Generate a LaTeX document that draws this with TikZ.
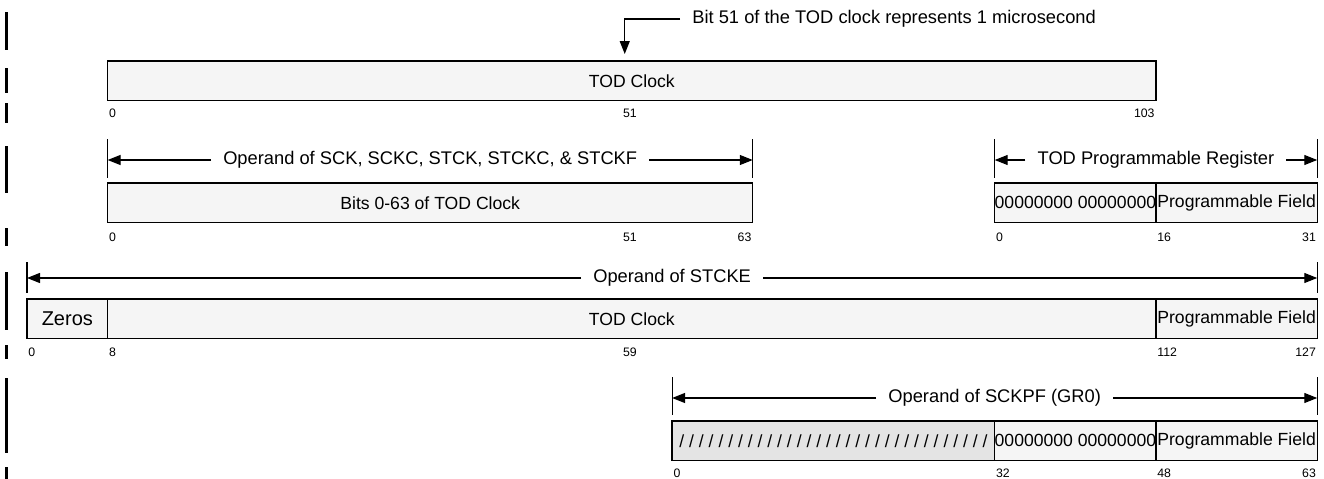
\documentclass[tikz,border=0pt]{standalone}
\usepackage{fontspec}
\setmainfont{Liberation Sans}
\usetikzlibrary{arrows.meta,positioning}
\definecolor{CellFill}{HTML}{F5F5F5}
\definecolor{CellShade}{HTML}{E4E4E4}

\begin{document}
\begin{tikzpicture}[x=10.08pt, y=-1pt,
   cell/.style={draw, line width=1.4pt, fill=CellFill, anchor=north west, outer sep=0pt,
                minimum height=39.5pt, inner sep=0pt, font=\fontsize{17.6}{20}\selectfont},
   nbits/.style={minimum width=#1*10.08pt},
   bitno/.style={font=\fontsize{12.3}{14}\selectfont, inner sep=1.2pt},
   oplabel/.style={font=\fontsize{18.3}{21}\selectfont, inner xsep=12pt, inner ysep=0pt},
   arr/.style={line width=1.2pt, -{Triangle[length=13pt,width=10pt]}},
   tick/.style={line width=1.2pt},
   chbar/.style={line width=3pt}]
  \useasboundingbox (-2.679,0) rectangle (128.671,479);

  % change bars in the margin
  \foreach \ya/\yb in {12/50, 68/93, 103/123, 146/193, 228/246, 272/330, 345/359, 378/453, 467/479}
    \draw[chbar] (-2.034,\ya) -- (-2.034,\yb);

  % TOD clock, 104 bits
  \node[oplabel, anchor=west] (note) at (64.8,19) {Bit 51 of the TOD clock represents 1 microsecond};
  \coordinate (b51) at (59.3,54);
  \draw[arr] (note.west) -| (b51);
  \node[cell, nbits=104] (tod) at (8,61) {TOD Clock};
  \node[bitno, anchor=west] (tod0) at (8,113) {0};
  \node[bitno, anchor=west] (tod51) at (59,113) {51};
  \node[bitno, anchor=east] (tod103) at (112,113) {103};

  % 64-bit operand
  \draw[tick] (8,139) -- (8,178);
  \draw[tick] (72,139) -- (72,178);
  \coordinate (opAl) at (8,160);
  \coordinate (opAr) at (72,160);
  \node[oplabel] (opA) at (40,160) {Operand of SCK, SCKC, STCK, STCKC, \& STCKF};
  \draw[arr] (opA.west) -- (opAl);
  \draw[arr] (opA.east) -- (opAr);
  \node[cell, nbits=64] (bits) at (8,183) {Bits 0-63 of TOD Clock};
  \node[bitno, anchor=west] (bits0) at (8,237) {0};
  \node[bitno, anchor=west] (bits51) at (59,237) {51};
  \node[bitno, anchor=east] (bits63) at (72,237) {63};

  % TOD programmable register
  \draw[tick] (96,139) -- (96,178);
  \draw[tick] (128,139) -- (128,178);
  \coordinate (tprl) at (96,160);
  \coordinate (tprr) at (128,160);
  \node[oplabel] (tpr) at (112,160) {TOD Programmable Register};
  \draw[arr] (tpr.west) -- (tprl);
  \draw[arr] (tpr.east) -- (tprr);
  \node[cell, nbits=16] (tprz) at (96,183) {00000000 00000000};
  \node[cell, nbits=16] (tprf) at (112,183) {Programmable Field};
  \node[bitno, anchor=west] (tpr0) at (96,237) {0};
  \node[bitno, anchor=west] (tpr16) at (112,237) {16};
  \node[bitno, anchor=east] (tpr31) at (128,237) {31};

  % STCKE operand, 128 bits
  \draw[tick] (0,262) -- (0,293);
  \draw[tick] (128,262) -- (128,293);
  \coordinate (opBl) at (0,278);
  \coordinate (opBr) at (128,278);
  \node[oplabel] (opB) at (64,278) {Operand of STCKE};
  \draw[arr] (opB.west) -- (opBl);
  \draw[arr] (opB.east) -- (opBr);
  \node[cell, nbits=8, font=\fontsize{20}{23}\selectfont] (ext0) at (0,299) {Zeros};
  \node[cell, nbits=104] (extclk) at (8,299) {TOD Clock};
  \node[cell, nbits=16] (extpf) at (112,299) {Programmable Field};
  \node[bitno, anchor=west] (ext0n) at (0,352) {0};
  \node[bitno, anchor=west] (ext8n) at (8,352) {8};
  \node[bitno, anchor=west] (ext59n) at (59,352) {59};
  \node[bitno, anchor=west] (ext112n) at (112,352) {112};
  \node[bitno, anchor=east] (ext127n) at (128,352) {127};

  % SCKPF operand in GR0
  \draw[tick] (64,377) -- (64,415);
  \draw[tick] (128,377) -- (128,415);
  \coordinate (opCl) at (64,398);
  \coordinate (opCr) at (128,398);
  \node[oplabel] (opC) at (96,398) {Operand of SCKPF (GR0)};
  \draw[arr] (opC.west) -- (opCl);
  \draw[arr] (opC.east) -- (opCr);
  \node[cell, nbits=32, fill=CellShade] (gr0x) at (64,421) {/ / / / / / / / / / / / / / / / / / / / / / / / / / / / / / / /};
  \node[cell, nbits=16] (gr0z) at (96,421) {00000000 00000000};
  \node[cell, nbits=16] (gr0f) at (112,421) {Programmable Field};
  \node[bitno, anchor=west] (gr00) at (64,473) {0};
  \node[bitno, anchor=west] (gr032) at (96,473) {32};
  \node[bitno, anchor=west] (gr048) at (112,473) {48};
  \node[bitno, anchor=east] (gr063) at (128,473) {63};
\end{tikzpicture}
\end{document}
